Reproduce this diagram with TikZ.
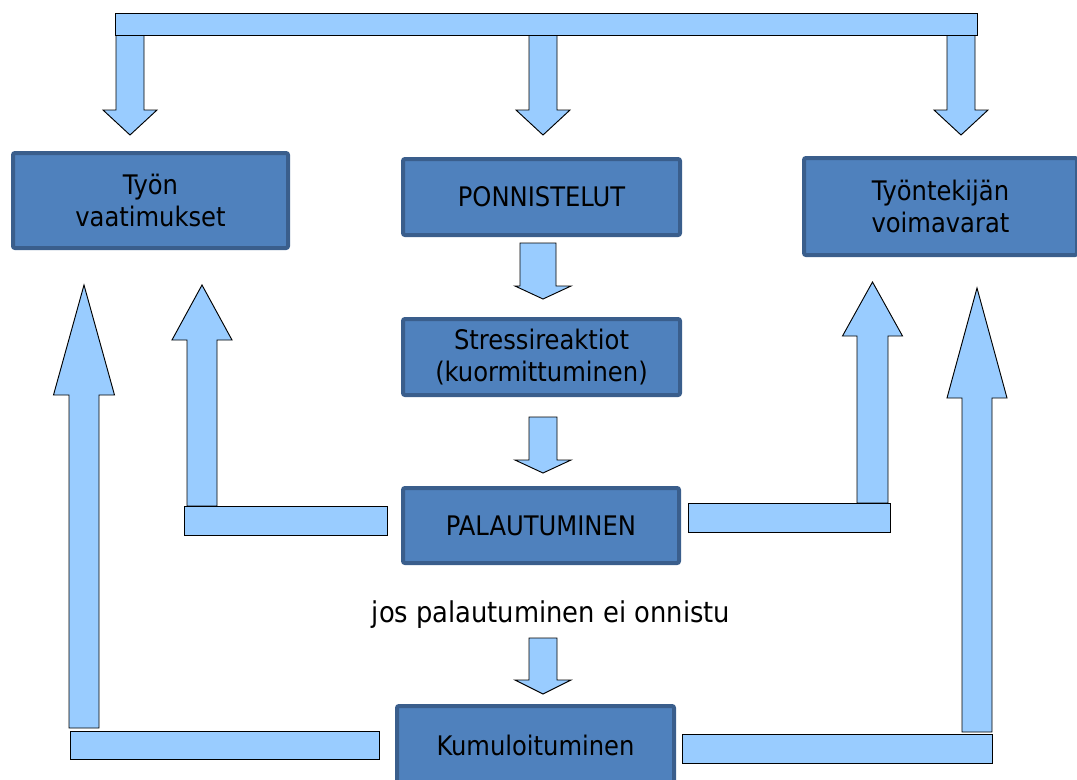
\documentclass[tikz,border=0pt]{standalone}
\usepackage{fontspec}
\setmainfont{DejaVu Sans Condensed}
\usetikzlibrary{positioning}
\definecolor{boxfill}{HTML}{4F81BD}
\definecolor{boxedge}{HTML}{3A5E8C}
\definecolor{arrowfill}{HTML}{99CCFF}
\tikzset{
        % Blue stage boxes
        stage/.style={rectangle, rounded corners=1.5pt, draw=boxedge, line width=3pt, fill=boxfill, align=center, inner sep=0pt, font=\fontsize{20.2}{24}\selectfont},
        % Light blue block arrows and bars
        flow/.style={draw=black, line width=0.7pt, fill=arrowfill, line join=miter},
        % Free text
        note/.style={inner sep=0pt, font=\fontsize{21.5}{26}\selectfont}
}
% x, start y, head y, tip y, shaft half width, head half width
\newcommand{\flowarrow}[6]{%
  \draw[flow] ({#1-#5},#2) -- ({#1+#5},#2) -- ({#1+#5},#3) -- ({#1+#6},#3) -- (#1,#4) -- ({#1-#6},#3) -- ({#1-#5},#3) -- cycle;}

\begin{document}
\begin{tikzpicture}[x=0.75pt, y=-0.75pt]
            \useasboundingbox (0,0) rectangle (1077,779);
            % top bar
            \flowarrow{130}{35}{110}{135}{14}{27}
            \flowarrow{543}{35}{110}{135}{14}{27}
            \flowarrow{961}{35}{110}{135}{14}{27}
            \draw[flow] (115,13) rectangle (977,35);
            % stages
            \node[stage, minimum width=206.25pt, minimum height=71.25pt] (tyon) at (150.5,200.5) {Työn\\vaatimukset};
            \node[stage, minimum width=207.75pt, minimum height=57pt] (ponnistelut) at (541.5,197) {PONNISTELUT};
            \node[stage, minimum width=207.75pt, minimum height=57pt] (stressi) at (541.5,357) {Stressireaktiot\\(kuormittuminen)};
            \node[stage, minimum width=207pt, minimum height=56.25pt] (palautuminen) at (541,525.5) {PALAUTUMINEN};
            \node[stage, minimum width=207.75pt, minimum height=58.5pt] (kumuloituminen) at (535.5,745) {Kumuloituminen};
            \node[stage, minimum width=204.75pt, minimum height=72.75pt] (voimavarat) at (940.5,206.5) {Työntekijän\\voimavarat};
            \node[note] (ehto) at (551,614.5) {jos palautuminen ei onnistu};
            % middle column
            \draw[flow] (520,243) -- (556,243) -- (556,286) -- (571,286) -- (543,299) -- (515,286) -- (520,286) -- cycle;
            \flowarrow{543}{417}{460}{473}{14}{28}
            \flowarrow{543}{638}{680}{694}{14}{28}
            % feedback from recovery
            \flowarrow{202}{506}{340}{285}{15}{30}
            \draw[flow] (184,506) rectangle (387,535);
            \flowarrow{872.5}{503}{336}{282}{15.5}{30}
            \draw[flow] (688,503) rectangle (890,532);
            % feedback from accumulation
            \flowarrow{84}{728}{395}{285}{15}{30.5}
            \draw[flow] (70,731) rectangle (379,759);
            \flowarrow{977}{732}{398}{288}{15}{30}
            \draw[flow] (682,734) rectangle (992,763);
\end{tikzpicture}
\end{document}
